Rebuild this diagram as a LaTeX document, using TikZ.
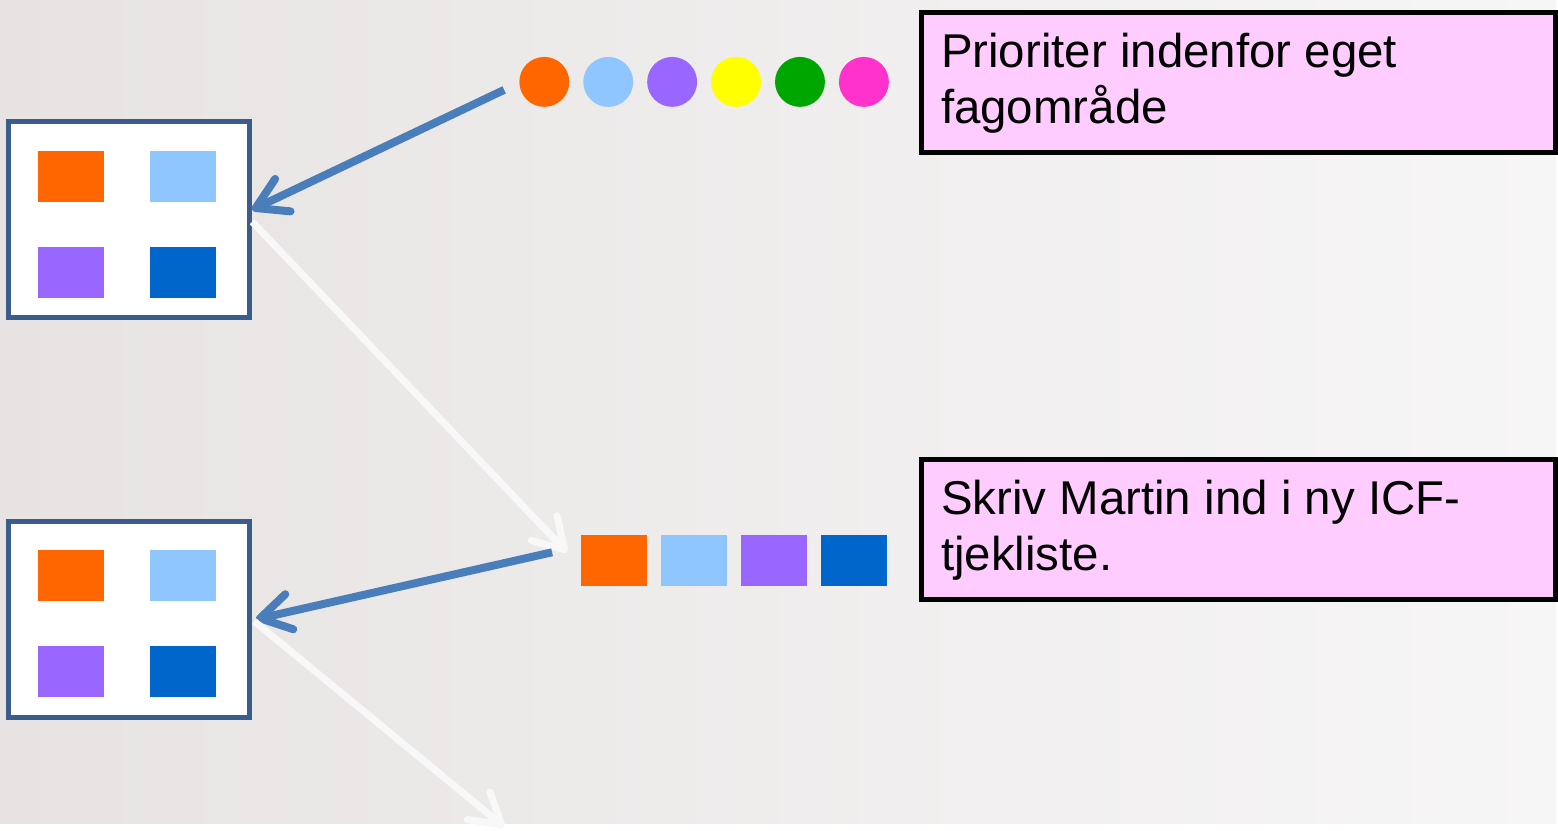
\documentclass[tikz,border=0pt]{standalone}
\usepackage{fontspec}
\setmainfont{Liberation Sans}
\usetikzlibrary{arrows.meta}
\definecolor{orng}{HTML}{FF6600}
\definecolor{sky}{HTML}{8FC6FF}
\definecolor{violet}{HTML}{9966FF}
\definecolor{deepblue}{HTML}{0066CC}
\definecolor{yel}{HTML}{FFFF00}
\definecolor{grn}{HTML}{00A600}
\definecolor{mag}{HTML}{FF33CC}
\definecolor{notepink}{HTML}{FFCCFF}
\definecolor{gridblue}{HTML}{3A5D8C}
\definecolor{arrowblue}{HTML}{4A7EBB}
\definecolor{arrowwhite}{HTML}{F8F8F8}
\definecolor{bgl}{HTML}{E7E3E3}
\definecolor{bgr}{HTML}{F7F6F6}
\begin{document}
\begin{tikzpicture}[x=1pt, y=-1pt,
grid/.style={draw=gridblue, line width=5pt, fill=white, minimum width=241pt, minimum height=196pt, inner sep=0pt},
sq/.style={minimum width=66pt, minimum height=51pt, inner sep=0pt},
dot/.style={circle, minimum size=50pt, inner sep=0pt},
note/.style={draw=black, line width=5pt, fill=notepink, minimum width=635pt, minimum height=140pt, anchor=north west},
notetext/.style={font=\fontsize{47.5}{56}\selectfont, align=left, anchor=north west, inner sep=0pt},
pull/.style={draw=arrowblue, line width=8pt, -{Straight Barb[length=30pt, width=36pt, round]}},
push/.style={draw=arrowwhite, line width=7pt, -{Straight Barb[length=30pt, width=36pt, round]}}]
\shade[left color=bgl, right color=bgr] (0,0) rectangle (1558,825);

% the two grids
\foreach \gy/\nm in {0/top, 400/bot} {
    \node[grid] (\nm) at (129.5,220+\gy) {};
    \foreach \sx/\sy/\c in {71/176.5/orng, 183/176.5/sky, 71/272.5/violet, 183/272.5/deepblue}
        \node[sq, fill=\c] (\nm-\c) at (\sx,\sy+\gy) {};
}

% dots and squares
\foreach \c [count=\i] in {orng, sky, violet, yel, grn, mag}
    \node[dot, fill=\c] (c\i) at ({481+64*\i},82) {};
\foreach \c [count=\i] in {orng, sky, violet, deepblue}
    \node[sq, fill=\c] (r\i) at ({535+80*\i},561) {};

% notes
\node[note] (prio) at (920,10) {};
\node[notetext] (prioText) at (942,33) {Prioriter indenfor eget\\fagområde};
\node[note] (icf) at (920,458) {};
\node[notetext] (icfText) at (942,481) {Skriv Martin ind i ny ICF-\\tjekliste.};

% arrows
\coordinate (exit) at (505,828);
\draw[pull] ([shift={(-15,8)}]c1.west) -- ([yshift=10pt]top.east);
\draw[push] ([yshift=-2pt]top.east) -- ([shift={(-14,-8)}]r1.west);
\draw[pull] ([shift={(-29,-8)}]r1.west) -- ([shift={(4,0)}]bot.east);
\draw[push] ([shift={(2,2)}]bot.east) -- (exit);
\end{tikzpicture}
\end{document}
